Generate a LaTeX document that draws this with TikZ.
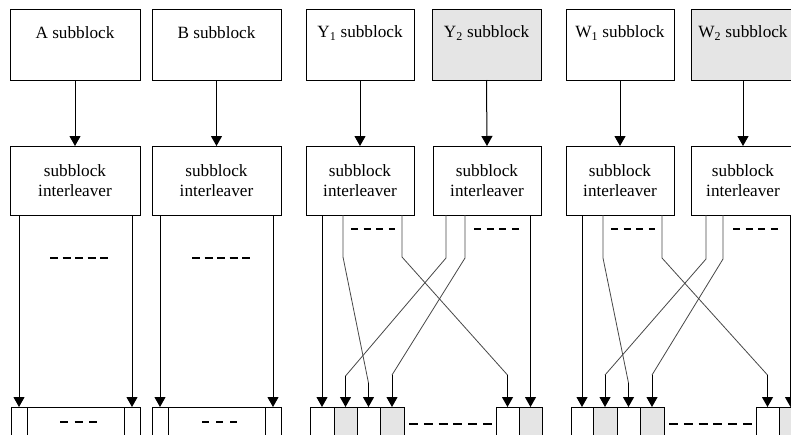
\documentclass[tikz,border=0pt]{standalone}
\usepackage{fontspec}
\setmainfont{Liberation Serif}
\usetikzlibrary{arrows.meta}
\begin{document}
\begin{tikzpicture}[x=1pt,y=-1pt,
  blk/.style={draw, line width=0.9pt, minimum height=71pt, inner sep=0pt, outer sep=0pt},
  ilv/.style={draw, line width=0.9pt, minimum height=69pt, inner sep=0pt, outer sep=0pt, align=center, font=\fontsize{17.2}{20}\selectfont},
  lbl/.style={font=\fontsize{17.2}{20}\selectfont, inner sep=0pt},
  shaded/.style={fill=black!10},
  cell/.style={draw, line width=0.9pt, minimum height=33pt, inner sep=0pt, outer sep=0pt},
  arr/.style={line width=1pt, -{Triangle[length=10pt,width=11pt]}},
  wire/.style={line width=0.8pt, black!72},
  dsh/.style={line width=2.2pt, dash pattern=on #1},
  dsh/.default={8pt off 5pt}
]
\useasboundingbox (0,0) rectangle (791,434);
\clip (0,0) rectangle (791,434);

% top subblock boxes
\node[blk, minimum width=130pt] (A) at (75,44.5) {};
\node[blk, minimum width=129pt] (B) at (216.5,44.5) {};
\node[blk, minimum width=108pt] (Y1) at (360,44.5) {};
\node[blk, shaded, minimum width=109pt] (Y2) at (486.5,44.5) {};
\node[blk, minimum width=108pt] (W1) at (620,44.5) {};
\node[blk, shaded, minimum width=104pt] (W2) at (743,44.5) {};

\node[lbl] (tA) at (75,33) {A subblock};
\node[lbl] (tB) at (216.5,33) {B subblock};
\node[lbl] (tY1) at (360,33) {Y\textsubscript{1} subblock};
\node[lbl] (tY2) at (486.5,33) {Y\textsubscript{2} subblock};
\node[lbl] (tW1) at (620,33) {W\textsubscript{1} subblock};
\node[lbl] (tW2) at (743,33) {W\textsubscript{2} subblock};

% interleavers
\node[ilv, minimum width=130pt] (IA) at (75,180.5) {subblock\\interleaver};
\node[ilv, minimum width=129pt] (IB) at (216.5,180.5) {subblock\\interleaver};
\node[ilv, minimum width=108pt] (IY1) at (360,180.5) {subblock\\interleaver};
\node[ilv, minimum width=108pt] (IY2) at (487,180.5) {subblock\\interleaver};
\node[ilv, minimum width=108pt] (IW1) at (620,180.5) {subblock\\interleaver};
\node[ilv, minimum width=104pt] (IW2) at (743,180.5) {subblock\\interleaver};

\foreach \s/\t in {A/IA,B/IB,Y1/IY1,Y2/IY2,W1/IW1,W2/IW2}
  \draw[arr] (\s.south) -- (\t.north);

% bottom cells
\node[cell, minimum width=16pt] (cA1) at (19,423.5) {};
\node[cell, minimum width=97pt] (cA2) at (75.5,423.5) {};
\node[cell, minimum width=16pt] (cA3) at (132,423.5) {};
\node[cell, minimum width=16pt] (cB1) at (160,423.5) {};
\node[cell, minimum width=97pt] (cB2) at (216.5,423.5) {};
\node[cell, minimum width=16pt] (cB3) at (273,423.5) {};

\node[cell, minimum width=24pt] (cY1) at (322,423.5) {};
\node[cell, shaded, minimum width=23pt] (cY2) at (345.5,423.5) {};
\node[cell, minimum width=23pt] (cY3) at (368.5,423.5) {};
\node[cell, shaded, minimum width=24pt] (cY4) at (392,423.5) {};
\node[cell, minimum width=23pt] (cY5) at (507.5,423.5) {};
\node[cell, shaded, minimum width=23pt] (cY6) at (530.5,423.5) {};

\node[cell, minimum width=22pt] (cW1) at (582,423.5) {};
\node[cell, shaded, minimum width=24pt] (cW2) at (605,423.5) {};
\node[cell, minimum width=23pt] (cW3) at (628.5,423.5) {};
\node[cell, shaded, minimum width=24pt] (cW4) at (652,423.5) {};
\node[cell, minimum width=23pt] (cW5) at (767.5,423.5) {};
\node[cell, shaded, minimum width=23pt] (cW6) at (790.5,423.5) {};

% straight connectors
\foreach \i/\c in {IA/cA1,IA/cA3,IB/cB1,IB/cB3,IY1/cY1,IY2/cY6,IW1/cW1,IW2/cW6}
  \draw[arr] (\i.south -| \c.north) -- (\c.north);

% crossing connectors, Y
\coordinate (y3a) at (343,257);  \coordinate (y3b) at (368.5,383);
\coordinate (y5a) at (402,257);  \coordinate (y5b) at (507.5,375);
\coordinate (y2a) at (446,258);  \coordinate (y2b) at (345.5,376);
\coordinate (y4a) at (465,258);  \coordinate (y4b) at (392,375);
\draw[wire] (IY1.south -| y3a) -- (y3a) -- (y3b);
\draw[wire] (IY1.south -| y5a) -- (y5a) -- (y5b);
\draw[wire] (IY2.south -| y2a) -- (y2a) -- (y2b);
\draw[wire] (IY2.south -| y4a) -- (y4a) -- (y4b);
\draw[arr] (y3b) -- (cY3.north);
\draw[arr] (y5b) -- (cY5.north);
\draw[arr] (y2b) -- (cY2.north);
\draw[arr] (y4b) -- (cY4.north);

% crossing connectors, W
\coordinate (w3a) at (603,258);  \coordinate (w3b) at (628.5,383);
\coordinate (w5a) at (662,258);  \coordinate (w5b) at (767.5,375);
\coordinate (w2a) at (706,259);  \coordinate (w2b) at (605,375);
\coordinate (w4a) at (723,259);  \coordinate (w4b) at (652,375);
\draw[wire] (IW1.south -| w3a) -- (w3a) -- (w3b);
\draw[wire] (IW1.south -| w5a) -- (w5a) -- (w5b);
\draw[wire] (IW2.south -| w2a) -- (w2a) -- (w2b);
\draw[wire] (IW2.south -| w4a) -- (w4a) -- (w4b);
\draw[arr] (w3b) -- (cW3.north);
\draw[arr] (w5b) -- (cW5.north);
\draw[arr] (w2b) -- (cW2.north);
\draw[arr] (w4b) -- (cW4.north);

% dashes
\draw[dsh={8pt off 4.5pt}] (50,258) -- (108,258);
\draw[dsh={8pt off 4.5pt}] (192,258) -- (250,258);
\draw[dsh={7pt off 5.6pt}] (351,229) -- (395,229);
\draw[dsh={7pt off 5.6pt}] (474,229) -- (519,229);
\draw[dsh={7pt off 5.6pt}] (611,229) -- (655,229);
\draw[dsh={7pt off 5.6pt}] (733,229) -- (778,229);
\draw[dsh={8pt off 6.5pt}] (60,422) -- (97,422);
\draw[dsh={7pt off 7pt}] (202,422) -- (237,422);
\draw[dsh={9pt off 5.8pt}] (cY4.east |- 0,424) ++(5,0) -- (492,424);
\draw[dsh={9pt off 5.8pt}] (cW4.east |- 0,424) ++(5,0) -- (752,424);
\end{tikzpicture}
\end{document}
